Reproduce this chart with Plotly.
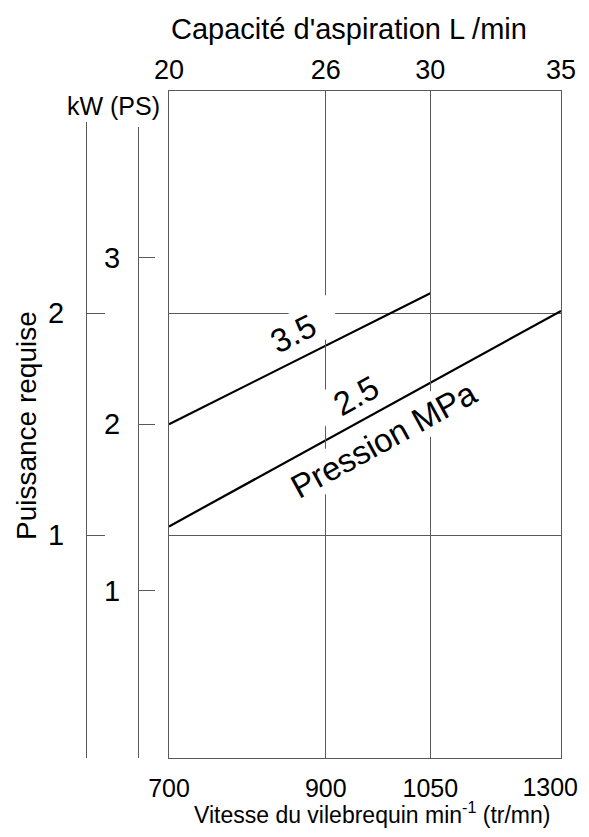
import plotly.graph_objects as go

# values
capacity_ticks = [20, 26, 30, 35]              # L/min (top axis)
rpm_labels = ["700", "900", "1050", "1300"]    # min-1 (bottom axis)
kw_ticks = [1, 2]
ps_ticks = [1, 2, 3]

capacity_35 = [20, 30]
power_35 = [1.50, 2.09]      # kW, pression 3.5 MPa
capacity_25 = [20, 35]
power_25 = [1.04, 2.01]      # kW, pression 2.5 MPa

# the page body keeps its 8px margin, so the figure is 16px smaller
PAGE_W, PAGE_H = 589, 837
OFF = 8
W, H = PAGE_W - 2 * OFF, PAGE_H - 2 * OFF
FONT = "Liberation Sans, Arial, Helvetica, sans-serif"
GRID = "#5a5a5a"


def px_x(p):
    return (p - OFF) / W


def px_y(p):
    return 1 - (p - OFF) / H


plot_l, plot_r, plot_t, plot_b = 169, 561, 91, 757.5
kw_top, ps_top = 122, 127

fig = go.Figure()

fig.add_trace(go.Scatter(x=capacity_35, y=power_35, mode="lines",
                         line=dict(color="black", width=2.2),
                         showlegend=False, hoverinfo="skip"))
fig.add_trace(go.Scatter(x=capacity_25, y=power_25, mode="lines",
                         line=dict(color="black", width=2.2),
                         showlegend=False, hoverinfo="skip"))
# invisible traces so the extra axes get drawn
for xa, ya in [("x2", "y"), ("x3", "y"), ("x", "y2"), ("x", "y3")]:
    fig.add_trace(go.Scatter(x=[20], y=[0], mode="none", xaxis=xa, yaxis=ya,
                             showlegend=False, hoverinfo="skip"))

ydom = [px_y(plot_b), px_y(plot_t)]
kw_frac = (plot_b - kw_top) / (plot_b - plot_t)
ps_frac = (plot_b - ps_top) / (plot_b - plot_t)

bottom_font = dict(size=25)

fig.update_layout(
    width=W, height=H,
    margin=dict(l=0, r=0, t=0, b=0),
    paper_bgcolor="white", plot_bgcolor="rgba(0,0,0,0)",
    font=dict(family=FONT, color="black"),
    xaxis=dict(
        domain=[px_x(plot_l), px_x(plot_r)], range=[20, 35], anchor="y",
        tickvals=capacity_ticks[:-1], ticktext=rpm_labels[:-1],
        tickfont=bottom_font, ticks="", ticklabelstandoff=8,
        showgrid=True, gridcolor=GRID, gridwidth=1,
        showline=True, linecolor=GRID, linewidth=1, mirror=True,
        zeroline=False, automargin=False,
    ),
    # last rpm label sits left of its gridline in the original
    xaxis3=dict(
        overlaying="x", side="bottom", range=[20, 35], anchor="y",
        tickvals=capacity_ticks[-1:], ticktext=rpm_labels[-1:],
        tickfont=bottom_font, ticks="", ticklabelstandoff=12,
        ticklabelposition="outside left", ticklabelshift=17,
        showgrid=False, showline=False, zeroline=False, automargin=False,
    ),
    xaxis2=dict(
        overlaying="x", side="top", range=[20, 35], anchor="y",
        tickvals=capacity_ticks, ticktext=[str(v) for v in capacity_ticks],
        tickfont=dict(size=27), ticks="", ticklabelstandoff=6,
        ticklabeloverflow="allow",
        showgrid=False, zeroline=False, automargin=False,
    ),
    yaxis=dict(
        domain=ydom, range=[0, 3], anchor="x",
        tickvals=kw_ticks, showticklabels=False, ticks="",
        showgrid=True, gridcolor=GRID, gridwidth=1,
        showline=True, linecolor=GRID, linewidth=1, mirror=True,
        zeroline=False, automargin=False,
    ),
    yaxis2=dict(
        domain=[ydom[0], px_y(kw_top)], range=[0, 3 * kw_frac],
        anchor="free", position=px_x(86), side="left",
        tickvals=kw_ticks, tickfont=dict(size=29),
        ticks="inside", ticklen=18, tickcolor=GRID, tickwidth=1,
        ticklabelstandoff=16,
        minor=dict(tickvals=[0], ticks="inside", ticklen=18,
                   tickcolor=GRID, tickwidth=1, showgrid=False),
        showline=True, linecolor=GRID, linewidth=1,
        showgrid=False, zeroline=False, automargin=False,
    ),
    yaxis3=dict(
        domain=[ydom[0], px_y(ps_top)], range=[0, 4 * ps_frac],
        anchor="free", position=px_x(138), side="left",
        tickvals=ps_ticks, tickfont=dict(size=29),
        ticks="inside", ticklen=16, tickcolor=GRID, tickwidth=1,
        ticklabelstandoff=12,
        minor=dict(tickvals=[0], ticks="inside", ticklen=16,
                   tickcolor=GRID, tickwidth=1, showgrid=False),
        showline=True, linecolor=GRID, linewidth=1,
        showgrid=False, zeroline=False, automargin=False,
    ),
)

# curve labels (white boxes break the grid lines as in the original)
fig.add_annotation(x=24.75, y=1.91, xref="x", yref="y", text="3.5",
                   showarrow=False, textangle=-26.4, font=dict(size=33),
                   bgcolor="white", borderpad=1, width=90)
fig.add_annotation(x=27.16, y=1.63, xref="x", yref="y", text="2.5",
                   showarrow=False, textangle=-28.7, font=dict(size=33),
                   bgcolor="white", borderpad=1, width=80)
fig.add_annotation(x=28.23, y=1.43, xref="x", yref="y", text="Pression MPa",
                   showarrow=False, textangle=-28.7, font=dict(size=33),
                   bgcolor="white", borderpad=1)

# axis titles, unit header
fig.add_annotation(x=px_x(349), y=px_y(29), xref="paper", yref="paper",
                   xanchor="center", yanchor="middle",
                   text="Capacité d'aspiration L /min", showarrow=False,
                   font=dict(size=29))
fig.add_annotation(x=px_x(372), y=px_y(813), xref="paper", yref="paper",
                   xanchor="center", yanchor="middle",
                   text="Vitesse du vilebrequin min<sup>-1</sup> (tr/mn)",
                   showarrow=False, font=dict(size=23))
fig.add_annotation(x=px_x(113), y=px_y(106), xref="paper", yref="paper",
                   xanchor="center", yanchor="middle",
                   text="kW (PS)", showarrow=False, font=dict(size=25))
fig.add_annotation(x=px_x(26), y=px_y(426), xref="paper", yref="paper",
                   xanchor="center", yanchor="middle",
                   text="Puissance requise", showarrow=False, textangle=-90,
                   font=dict(size=28))

fig.write_html("out.html")
